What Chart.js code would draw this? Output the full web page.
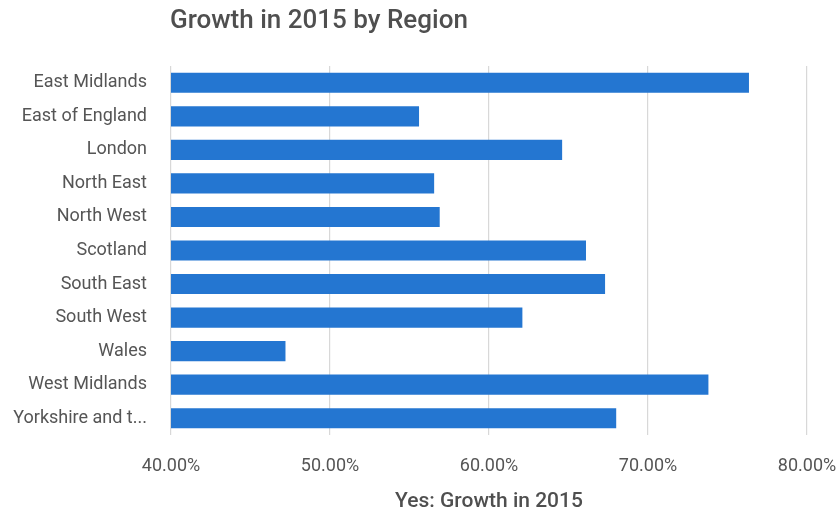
<!DOCTYPE html>
<html>
<head>
<meta charset="utf-8">
<style>
  html, body { margin: 0; padding: 0; background: #ffffff; }
  #wrap { width: 839px; height: 514px; position: relative; }
</style>
<script src="https://cdn.jsdelivr.net/npm/chart.js@4/dist/chart.umd.min.js"></script>
</head>
<body>
<div id="wrap"><canvas id="chart" width="839" height="514"></canvas></div>
<script>
// Regions and their 2015 growth (percent)
const regions = [
  'East Midlands', 'East of England', 'London', 'North East', 'North West',
  'Scotland', 'South East', 'South West', 'Wales', 'West Midlands', 'Yorkshire and t...'
];
const growth2015 = [76.35, 55.6, 64.6, 56.55, 56.9, 66.1, 67.3, 62.1, 47.2, 73.8, 68.0];
const xTicks = [40, 50, 60, 70, 80];

const chartTitle = 'Growth in 2015 by Region';
const xAxisTitle = 'Yes: Growth in 2015';

const FONT = 'Roboto, "Liberation Sans", Arial, sans-serif';
const TEXT = '#555555';

// Draws the heading aligned with the left edge of the plot area
const headingPlugin = {
  id: 'heading',
  afterDraw(chart) {
    const { ctx, chartArea } = chart;
    ctx.save();
    ctx.font = '500 26px ' + FONT;
    ctx.fillStyle = '#4f4f4f';
    ctx.textAlign = 'left';
    ctx.textBaseline = 'middle';
    ctx.fillText(chartTitle, chartArea.left - 1, 21);
    ctx.restore();
  }
};

new Chart(document.getElementById('chart'), {
  type: 'bar',
  data: {
    labels: regions,
    datasets: [{
      label: xAxisTitle,
      data: growth2015,
      backgroundColor: '#2476d1',
      borderWidth: 0,
      barPercentage: 0.6,
      categoryPercentage: 1.0
    }]
  },
  options: {
    indexAxis: 'y',
    responsive: false,
    animation: false,
    devicePixelRatio: 1,
    layout: { padding: { top: 66, right: 32, bottom: 0, left: 0 } },
    plugins: {
      legend: { display: false },
      title: { display: false },
      tooltip: { enabled: false }
    },
    scales: {
      x: {
        type: 'linear',
        min: xTicks[0],
        max: xTicks[xTicks.length - 1],
        afterBuildTicks(scale) { scale.ticks = xTicks.map(v => ({ value: v })); },
        afterFit(scale) {
          scale.height = 79;
          scale.paddingLeft = 0;
          scale.paddingRight = 0;
        },
        border: { display: false },
        grid: { color: '#d8d8d8', lineWidth: 1.2, drawTicks: false },
        ticks: {
          color: TEXT,
          font: { family: FONT, size: 18 },
          padding: 21,
          maxRotation: 0,
          callback: v => v.toFixed(2) + '%'
        },
        title: {
          display: true,
          text: xAxisTitle,
          color: '#4f4f4f',
          font: { family: FONT, size: 21, weight: '500' },
          padding: { top: 0, bottom: 0 }
        }
      },
      y: {
        afterFit(scale) {
          scale.width = 171;
          scale.paddingTop = 0;
          scale.paddingBottom = 0;
        },
        border: { display: false },
        grid: { display: false, drawTicks: false },
        ticks: {
          color: TEXT,
          font: { family: FONT, size: 18 },
          padding: 24,
          autoSkip: false
        }
      }
    }
  },
  plugins: [headingPlugin]
});
</script>
</body>
</html>
